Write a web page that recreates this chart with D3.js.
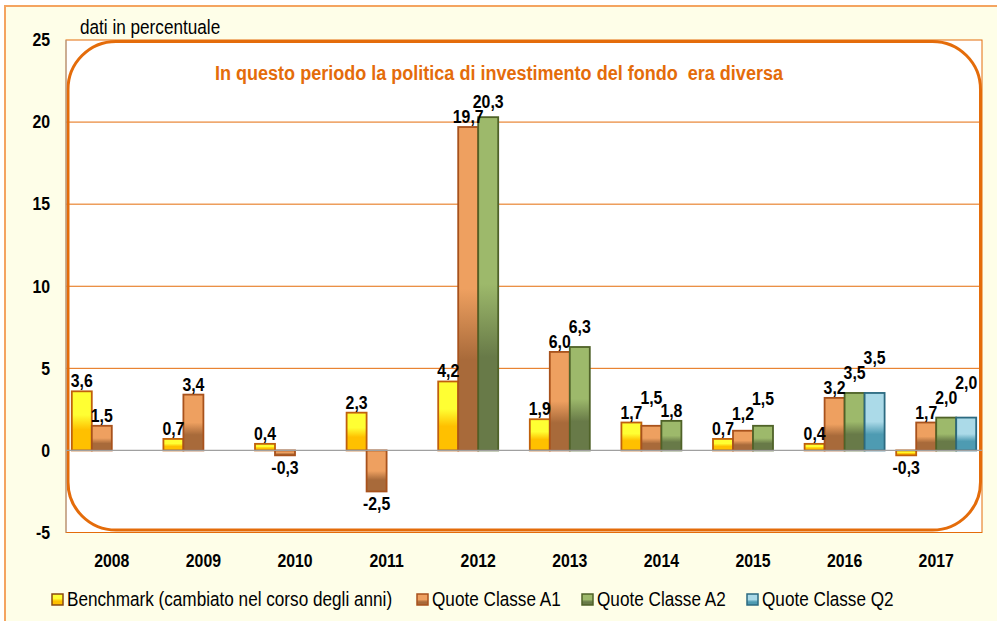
<!DOCTYPE html>
<html>
<head>
<meta charset="utf-8">
<script src="https://cdn.jsdelivr.net/npm/d3@7/dist/d3.min.js"></script>
<style>
  html, body { margin: 0; padding: 0; background: #ffffff; }
  svg { display: block; }
  text { font-family: "Liberation Sans", Arial, sans-serif; white-space: pre; }
</style>
</head>
<body>
<svg id="chart" width="997" height="621"></svg>
<script>
// Annual returns (%), one array per series; null = no value for that year
const years = ["2008", "2009", "2010", "2011", "2012", "2013", "2014", "2015", "2016", "2017"];
const seriesNames = ["Benchmark (cambiato nel corso degli anni)", "Quote Classe A1", "Quote Classe A2", "Quote Classe Q2"];
const benchmark = [3.6, 0.7, 0.4, 2.3, 4.2, 1.9, 1.7, 0.7, 0.4, -0.3];
const classeA1  = [1.5, 3.4, -0.3, -2.5, 19.7, 6.0, 1.5, 1.2, 3.2, 1.7];
const classeA2  = [null, null, null, null, 20.3, 6.3, 1.8, 1.5, 3.5, 2.0];
const classeQ2  = [null, null, null, null, null, null, null, null, 3.5, 2.0];
const yTicks = [-5, 0, 5, 10, 15, 20, 25];
const title = "In questo periodo la politica di investimento del fondo  era diversa";
const unitNote = "dati in percentuale";

const seriesValues = [benchmark, classeA1, classeA2, classeQ2];
const palette = [
  { light: "#FFFF33", dark: "#FFC000", stroke: "#C0600C" },
  { light: "#EEA060", dark: "#A86A3A", stroke: "#A8521C" },
  { light: "#9DB96B", dark: "#687A48", stroke: "#4F6228" },
  { light: "#ABDAE8", dark: "#4E9BB2", stroke: "#2C6A80" }
];
const SQUEEZE = 0.88; // horizontal condensing of all text

const svg = d3.select("#chart");
const W = 997, H = 621;
const plot = { left: 66, right: 982, top: 40, bottom: 532.5 };

// place a condensed text at (x, y)
function narrowText(parent, x, y, str, anchor) {
  return parent.append("text")
    .attr("transform", `translate(${x},${y}) scale(${SQUEEZE},1)`)
    .attr("text-anchor", anchor || "start")
    .text(str);
}

// Gradients: light upper part, darker lower part
const defs = svg.append("defs");
palette.forEach((p, i) => {
  const g = defs.append("linearGradient").attr("id", "grad" + i)
    .attr("x1", 0).attr("y1", 0).attr("x2", 0).attr("y2", 1);
  g.append("stop").attr("offset", "0%").attr("stop-color", p.light);
  g.append("stop").attr("offset", i === 0 ? "40%" : "50%").attr("stop-color", p.light);
  g.append("stop").attr("offset", i === 0 ? "65%" : "72%").attr("stop-color", p.dark);
  g.append("stop").attr("offset", "100%").attr("stop-color", p.dark);
});

// Page background and frame
svg.append("rect").attr("x", 5).attr("y", 6).attr("width", W).attr("height", H)
  .attr("fill", "#FEFEE8").attr("stroke", "#F4A460").attr("stroke-width", 2);

// Scales
const x0 = d3.scaleBand().domain(years).range([plot.left, plot.right]);
const x1 = d3.scaleBand().domain(d3.range(4)).range([0, x0.bandwidth()]).paddingOuter(0.29);
const y = d3.scaleLinear().domain([-5, 25]).range([plot.bottom, plot.top]);

// Plot area
svg.append("rect").attr("x", plot.left).attr("y", plot.top)
  .attr("width", plot.right - plot.left).attr("height", plot.bottom - plot.top)
  .attr("fill", "#ffffff").attr("stroke", "#E46C0A").attr("stroke-width", 1);

// Gridlines
svg.append("g").selectAll("line").data(yTicks.filter(t => t > 0 && t < 25)).join("line")
  .attr("x1", plot.left).attr("x2", plot.right)
  .attr("y1", d => y(d)).attr("y2", d => y(d))
  .attr("stroke", "#E46C0A").attr("stroke-width", 1);

// Rounded frame inside the plot area
svg.append("rect").attr("x", plot.left + 2).attr("y", plot.top + 1.5)
  .attr("width", plot.right - plot.left - 3.5).attr("height", plot.bottom - plot.top - 4)
  .attr("rx", 48).attr("ry", 48)
  .attr("fill", "none").attr("stroke", "#E46C0A").attr("stroke-width", 3);

// Left axis line
svg.append("line").attr("x1", plot.left).attr("x2", plot.left)
  .attr("y1", plot.top).attr("y2", plot.bottom).attr("stroke", "#A6A6A6");

// Y axis
const yAxis = d3.axisLeft(y).tickValues(yTicks).tickSize(0).tickPadding(0).tickFormat(d => String(d));
const yg = svg.append("g").attr("transform", `translate(50,0)`).call(yAxis);
yg.select(".domain").remove();
yg.selectAll("text").attr("font-size", 18).attr("font-weight", "bold").attr("fill", "#000")
  .attr("font-family", '"Liberation Sans", Arial, sans-serif')
  .attr("transform", `scale(${SQUEEZE},1)`);

// X axis labels
const xAxis = d3.axisBottom(x0).tickSize(0).tickPadding(0);
const xg = svg.append("g").attr("transform", `translate(0,554)`).call(xAxis);
xg.select(".domain").remove();
xg.selectAll("text").attr("font-size", 18).attr("font-weight", "bold").attr("fill", "#000")
  .attr("font-family", '"Liberation Sans", Arial, sans-serif')
  .attr("transform", `scale(${SQUEEZE},1)`);

// Bars
const cells = [];
years.forEach((yr, i) => seriesValues.forEach((arr, s) => {
  if (arr[i] !== null) cells.push({ year: yr, s, v: arr[i] });
}));

svg.append("g").selectAll("rect").data(cells).join("rect")
  .attr("x", d => x0(d.year) + x1(d.s))
  .attr("width", x1.bandwidth())
  .attr("y", d => y(Math.max(0, d.v)))
  .attr("height", d => Math.abs(y(d.v) - y(0)))
  .attr("fill", d => `url(#grad${d.s})`)
  .attr("stroke", d => palette[d.s].stroke).attr("stroke-width", 1.8);

// Zero line
svg.append("line").attr("x1", plot.left).attr("x2", plot.right)
  .attr("y1", y(0)).attr("y2", y(0)).attr("stroke", "#A0A0A0").attr("stroke-width", 1.2);

// Value labels: above positive bars, below negative ones; a label that
// collides with its left neighbour in the same year is lifted above it
const fmt = v => d3.format(".1f")(v).replace(".", ",").replace("\u2212", "-");
const labelLayer = svg.append("g").attr("font-size", 18).attr("font-weight", "bold").attr("fill", "#000");
const CAP = 13;
let prev = null;
cells.forEach(d => {
  const cx = x0(d.year) + x1(d.s) + x1.bandwidth() / 2;
  let base = d.v >= 0 ? y(d.v) - 4 : y(d.v) + 19;
  const t = narrowText(labelLayer, cx, base, fmt(d.v), "middle");
  const w = t.node().getComputedTextLength() * SQUEEZE;
  if (prev && prev.year === d.year && d.v >= 0 && prev.v >= 0) {
    const hOverlap = cx - w / 2 < prev.x1 - 1;
    const vOverlap = base > prev.base - CAP && base - CAP < prev.base;
    if (hOverlap && vOverlap) {
      base = prev.base - CAP - 2;
      t.attr("transform", `translate(${cx},${base}) scale(${SQUEEZE},1)`);
    }
  }
  prev = { year: d.year, v: d.v, base, x1: cx + w / 2 };
});

// Title inside the rounded frame
narrowText(svg, 499, 80, title, "middle")
  .attr("font-size", 20.5).attr("font-weight", "bold").attr("fill", "#E46C0A");

// Unit note above the plot
narrowText(svg, 80, 34, unitNote).attr("font-size", 19.5).attr("fill", "#000");

// Legend
const legendX = [52, 417, 582, 747];
seriesNames.forEach((name, i) => {
  const g = svg.append("g").attr("transform", `translate(${legendX[i]},594)`);
  g.append("rect").attr("width", 11).attr("height", 11)
    .attr("fill", `url(#grad${i})`)
    .attr("stroke", i === 0 ? "#8A4A10" : palette[i].stroke).attr("stroke-width", 1.5);
  narrowText(g, 15, 12, name).attr("font-size", 19.5).attr("fill", "#000");
});
</script>
</body>
</html>
